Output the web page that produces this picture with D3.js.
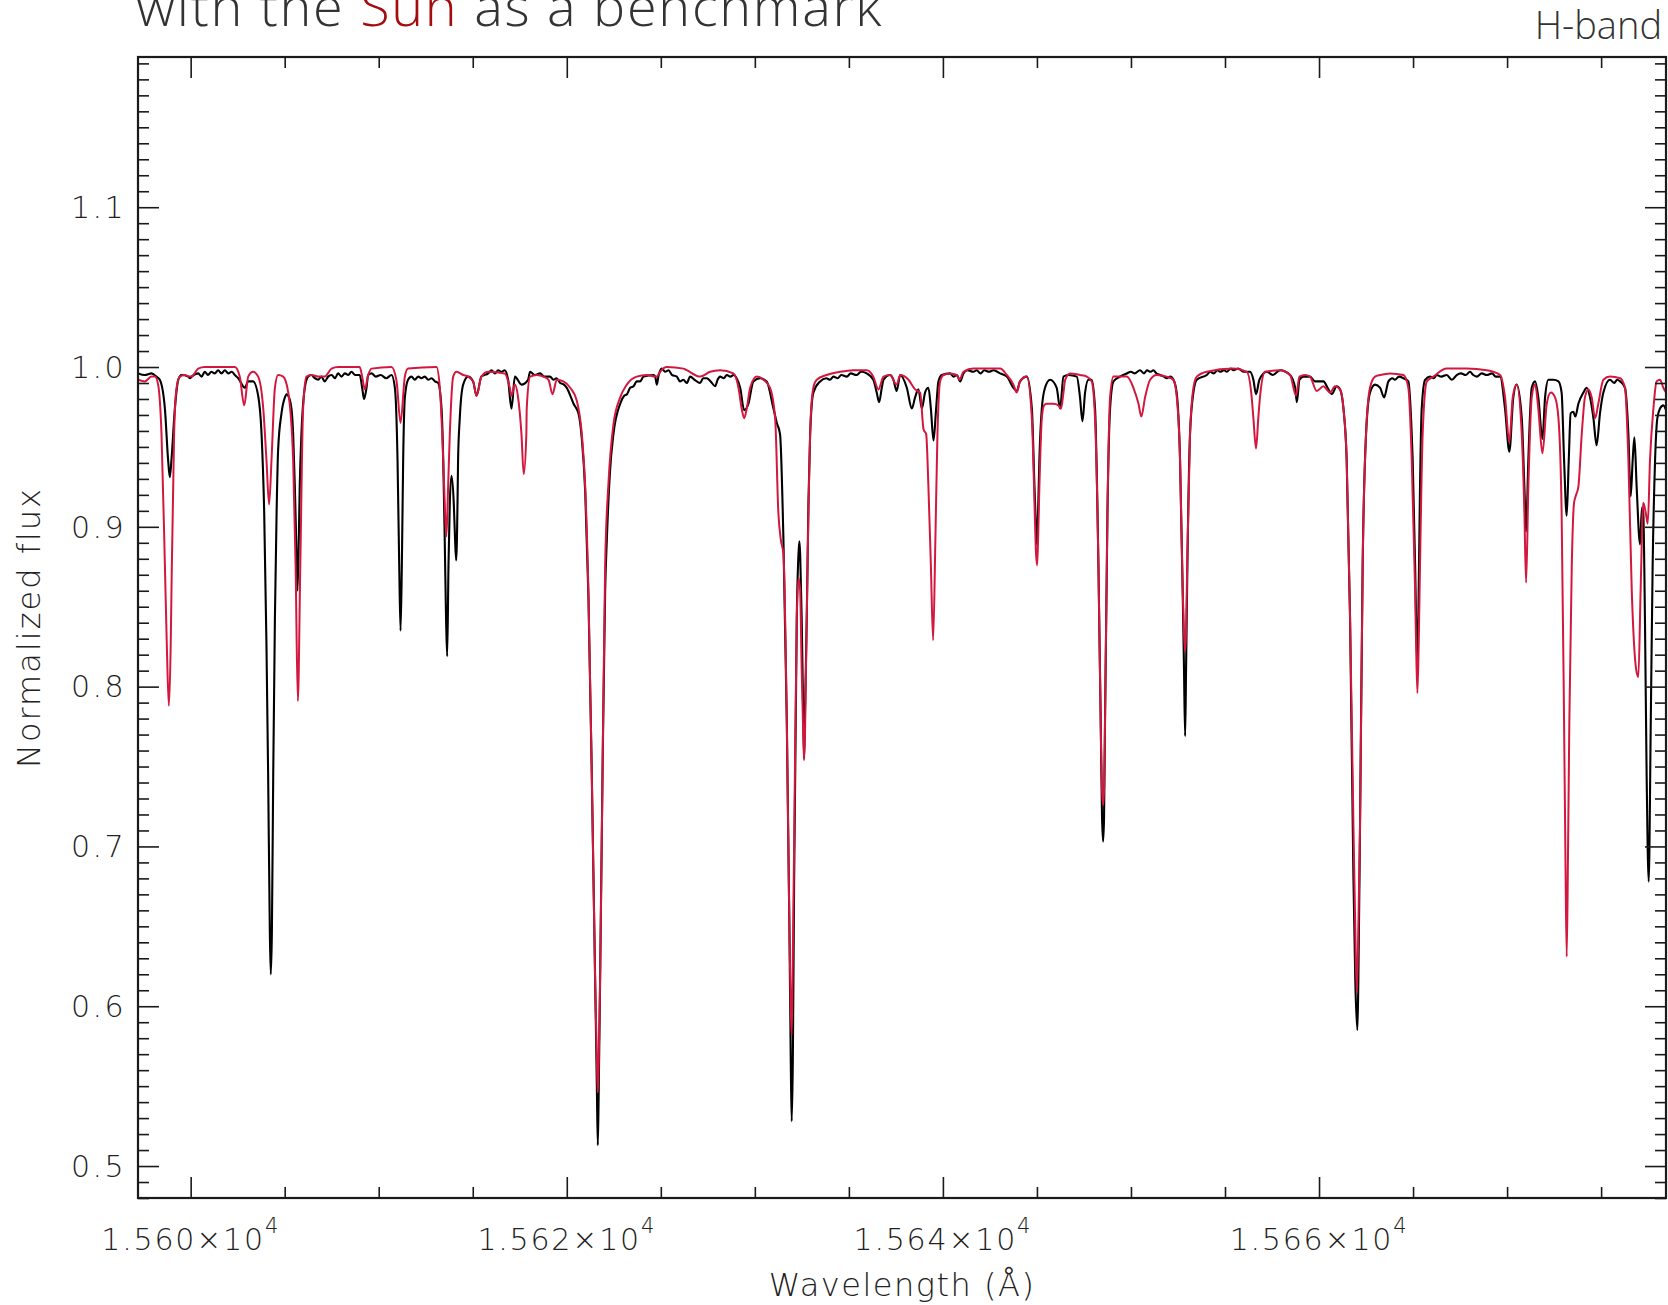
<!DOCTYPE html>
<html>
<head>
<meta charset="utf-8">
<script src="https://cdn.jsdelivr.net/npm/d3@7"></script>
<style>
  html, body { margin: 0; padding: 0; background: #fff; }
  svg { display: block; }
</style>
</head>
<body>
<svg id="chart" width="1668" height="1305"></svg>
<script>
// ---------------- DATA ----------------
const titleParts = ["with the ", "Sun", " as a benchmark"];
const bandLabel = "H-band";
const xAxisTitle = "Wavelength (Å)";
const yAxisTitle = "Normalized flux";

const xMajorTicks = [15600, 15620, 15640, 15660];
const xTickMantissa = ["1.560", "1.562", "1.564", "1.566"];
const xTickExponent = "4";
const yMajorTicks = [0.5, 0.6, 0.7, 0.8, 0.9, 1.0, 1.1];
const yTickLabels = ["0.5", "0.6", "0.7", "0.8", "0.9", "1.0", "1.1"];

// observed spectrum (black): [wavelength Å, normalized flux]
const observedSpectrum = [
[15597.21,0.996],[15597.56,0.995],[15597.92,0.996],[15598.18,0.994],[15598.36,0.992],[15598.63,0.974],[15598.80,0.942],[15598.89,0.931],[15598.98,0.942],[15599.16,0.974],[15599.34,0.992],[15599.51,0.995],[15599.87,0.994],[15599.96,0.993],[15600.05,0.994],
[15600.40,0.996],[15600.58,0.994],[15600.75,0.997],[15600.92,0.995],[15601.10,0.997],[15601.28,0.996],[15601.46,0.998],[15601.64,0.996],[15601.82,0.998],[15602.00,0.996],[15602.18,0.997],[15602.35,0.995],[15602.53,0.993],
[15602.88,0.987],[15603.06,0.991],[15603.32,0.991],[15603.59,0.982],[15603.77,0.958],[15603.91,0.909],[15604.03,0.827],[15604.12,0.745],[15604.21,0.647],[15604.26,0.620],[15604.32,0.647],[15604.39,0.745],[15604.48,0.843],[15604.57,0.909],[15604.65,0.948],[15604.83,0.971],[15605.01,0.981],[15605.10,0.983],[15605.19,0.982],[15605.36,0.974],[15605.45,0.958],[15605.54,0.925],[15605.61,0.892],[15605.68,0.860],[15605.75,0.892],[15605.80,0.925],[15605.89,0.958],[15606.07,0.987],[15606.25,0.994],
[15606.42,0.995],[15606.60,0.993],[15606.78,0.992],[15606.95,0.994],[15607.13,0.991],[15607.31,0.994],[15607.50,0.995],[15607.67,0.993],[15607.84,0.996],[15608.02,0.994],[15608.20,0.996],[15608.38,0.995],[15608.55,0.997],[15608.75,0.995],[15608.99,0.995],
[15609.12,0.987],[15609.22,0.980],[15609.35,0.987],[15609.44,0.995],[15609.62,0.996],[15609.85,0.994],[15610.10,0.995],[15610.40,0.993],[15610.68,0.995],[15610.86,0.987],[15611.00,0.942],[15611.09,0.876],[15611.16,0.835],[15611.23,0.876],[15611.30,0.942],[15611.39,0.981],[15611.56,0.992],
[15611.74,0.994],[15611.92,0.992],[15612.10,0.994],[15612.27,0.993],[15612.45,0.994],[15612.63,0.992],[15612.81,0.993],[15612.99,0.991],[15613.16,0.990],
[15613.34,0.974],[15613.43,0.942],[15613.51,0.892],[15613.58,0.843],[15613.64,0.819],[15613.71,0.876],[15613.78,0.915],[15613.87,0.932],[15613.99,0.915],[15614.06,0.892],[15614.12,0.879],[15614.19,0.915],[15614.22,0.942],[15614.31,0.968],[15614.49,0.989],[15614.75,0.994],[15615.02,0.991],[15615.20,0.982],[15615.46,0.994],
[15615.82,0.996],[15616.00,0.998],[15616.18,0.996],[15616.35,0.998],[15616.53,0.997],[15616.70,0.998],[15616.88,0.992],[15617.06,0.974],[15617.24,0.994],[15617.59,0.989],[15617.94,0.992],
[15618.05,0.997],[15618.30,0.995],[15618.58,0.996],[15618.80,0.994],[15619.11,0.994],[15619.29,0.992],[15619.45,0.993],[15619.65,0.990],[15619.85,0.989],[15620.00,0.987],
[15620.36,0.977],[15620.62,0.971],[15620.80,0.955],[15620.98,0.922],[15621.15,0.857],[15621.33,0.745],[15621.51,0.615],[15621.60,0.549],[15621.65,0.513],[15621.70,0.549],[15621.77,0.615],[15621.90,0.745],[15622.04,0.860],[15622.13,0.892],[15622.30,0.935],[15622.48,0.958],
[15622.84,0.977],[15623.05,0.982],[15623.20,0.983],[15623.37,0.987],[15623.55,0.988],[15623.72,0.991],[15623.90,0.991],[15624.08,0.994],[15624.61,0.995],[15624.70,0.994],[15624.79,0.989],[15624.87,0.994],
[15625.05,0.999],[15625.23,0.997],[15625.41,0.998],[15625.60,0.995],[15625.85,0.994],[15626.02,0.991],[15626.20,0.992],[15626.38,0.990],[15626.56,0.994],[15626.80,0.992],[15627.09,0.990],[15627.25,0.993],[15627.44,0.993],[15627.65,0.991],[15627.89,0.988],[15628.02,0.992],[15628.15,0.994],[15628.35,0.993],[15628.51,0.995],[15628.70,0.994],[15628.86,0.995],
[15629.22,0.987],[15629.43,0.973],[15629.66,0.977],[15629.92,0.991],[15630.28,0.993],[15630.63,0.991],[15630.99,0.974],[15631.17,0.965],[15631.34,0.958],[15631.52,0.892],[15631.70,0.778],[15631.84,0.647],[15631.91,0.566],[15631.96,0.528],[15632.02,0.566],[15632.09,0.680],[15632.23,0.843],[15632.32,0.883],[15632.37,0.891],[15632.41,0.883],[15632.49,0.843],[15632.57,0.785],[15632.62,0.755],[15632.67,0.785],[15632.76,0.843],[15632.85,0.915],[15632.94,0.958],[15633.11,0.984],
[15633.47,0.991],[15633.80,0.993],[15634.00,0.992],[15634.18,0.994],[15634.40,0.993],[15634.60,0.995],[15634.89,0.994],[15635.10,0.996],[15635.40,0.995],[15635.65,0.997],[15635.95,0.996],
[15636.30,0.992],[15636.48,0.984],[15636.61,0.978],[15636.75,0.987],[15636.84,0.992],[15637.19,0.995],[15637.37,0.992],[15637.54,0.985],
[15637.73,0.995],[15638.08,0.987],[15638.35,0.974],[15638.52,0.981],[15638.70,0.986],[15638.88,0.974],[15639.05,0.984],[15639.23,0.987],[15639.36,0.974],[15639.50,0.954],[15639.64,0.974],[15639.76,0.991],[15639.94,0.995],
[15640.38,0.996],[15640.56,0.994],[15640.74,0.995],[15640.92,0.991],[15641.09,0.996],[15641.30,0.998],[15641.62,0.997],[15641.80,0.998],[15642.00,0.996],[15642.20,0.998],[15642.45,0.997],[15642.70,0.998],[15643.04,0.996],
[15643.40,0.994],[15643.75,0.987],[15643.93,0.985],[15644.10,0.991],[15644.46,0.994],[15644.73,0.974],[15644.87,0.925],[15644.94,0.902],[15644.99,0.889],[15645.06,0.909],[15645.13,0.942],[15645.26,0.974],[15645.43,0.987],[15645.70,0.992],[15646.05,0.987],[15646.23,0.974],[15646.41,0.994],[15646.67,0.995],[15647.12,0.994],[15647.29,0.981],[15647.42,0.966],[15647.56,0.984],[15647.74,0.992],[15647.91,0.992],[15648.09,0.974],[15648.27,0.876],[15648.41,0.762],[15648.46,0.719],[15648.52,0.703],[15648.57,0.719],[15648.62,0.778],[15648.75,0.909],[15648.89,0.974],[15649.07,0.991],[15649.42,0.994],
[15649.78,0.996],[15650.00,0.997],[15650.20,0.996],[15650.48,0.998],[15650.70,0.996],[15650.85,0.998],[15651.05,0.997],[15651.19,0.998],[15651.35,0.996],[15651.55,0.995],[15651.75,0.994],[15651.90,0.993],[15652.10,0.994],[15652.26,0.992],
[15652.43,0.984],[15652.61,0.942],[15652.75,0.860],[15652.82,0.811],[15652.88,0.769],[15652.93,0.811],[15653.00,0.876],[15653.14,0.958],[15653.32,0.984],[15653.50,0.992],
[15654.03,0.995],[15654.22,0.997],[15654.40,0.996],[15654.60,0.998],[15654.74,0.997],[15654.95,0.998],[15655.10,0.997],[15655.30,0.999],[15655.45,0.998],[15655.70,0.999],[15656.00,0.997],
[15656.33,0.997],[15656.51,0.992],[15656.65,0.983],[15656.83,0.992],[15657.22,0.997],[15657.55,0.995],[15657.93,0.998],
[15658.46,0.995],[15658.73,0.987],[15658.82,0.978],[15658.96,0.992],[15659.17,0.994],[15659.52,0.994],[15659.79,0.991],[15660.06,0.991],[15660.23,0.991],[15660.50,0.986],[15660.68,0.983],[15660.94,0.988],[15661.12,0.986],[15661.30,0.974],[15661.47,0.942],[15661.65,0.843],[15661.83,0.680],[15661.93,0.615],[15662.04,0.585],[15662.09,0.615],[15662.18,0.713],[15662.32,0.876],[15662.50,0.958],[15662.71,0.984],[15662.98,0.989],[15663.25,0.987],[15663.46,0.981],
[15663.69,0.991],[15663.90,0.993],[15664.04,0.992],[15664.25,0.994],[15664.49,0.993],
[15664.75,0.991],[15664.93,0.958],[15664.98,0.942],[15665.11,0.876],[15665.16,0.843],[15665.23,0.814],[15665.30,0.860],[15665.37,0.925],[15665.46,0.974],[15665.64,0.992],
[15665.90,0.994],[15666.10,0.993],[15666.26,0.995],[15666.50,0.994],[15666.79,0.995],[15667.06,0.992],[15667.32,0.995],[15667.55,0.996],[15667.80,0.995],[15668.03,0.997],[15668.20,0.995],[15668.39,0.994],[15668.65,0.996],[15668.92,0.995],[15669.20,0.996],[15669.40,0.994],[15669.63,0.994],
[15669.89,0.974],[15670.12,0.947],[15670.33,0.981],[15670.51,0.989],[15670.78,0.968],[15670.92,0.925],[15671.01,0.897],[15671.13,0.942],[15671.31,0.987],[15671.49,0.991],[15671.66,0.981],[15671.88,0.955],[15672.02,0.981],[15672.20,0.992],[15672.46,0.992],[15672.73,0.991],[15672.90,0.984],[15673.03,0.942],[15673.17,0.907],[15673.28,0.942],[15673.38,0.971],[15673.52,0.972],[15673.63,0.969],[15673.79,0.977],[15674.06,0.984],[15674.23,0.987],[15674.41,0.981],[15674.59,0.968],[15674.76,0.951],[15674.94,0.971],[15675.12,0.984],
[15675.47,0.992],[15675.70,0.990],[15675.85,0.992],[15676.01,0.991],
[15676.27,0.987],[15676.45,0.958],[15676.57,0.919],[15676.68,0.942],[15676.77,0.956],[15676.89,0.925],[15677.07,0.889],[15677.17,0.912],[15677.24,0.909],[15677.33,0.843],[15677.42,0.745],[15677.53,0.678],[15677.64,0.778],[15677.74,0.876],[15677.87,0.942],[15677.99,0.968],[15678.13,0.974],[15678.31,0.976],[15678.45,0.973]
];

// synthetic solar model (red): [wavelength Å, normalized flux]
const modelSpectrum = [
[15597.21,0.992],[15597.56,0.991],[15597.92,0.994],[15598.10,0.994],[15598.27,0.989],[15598.45,0.958],[15598.63,0.876],[15598.73,0.827],[15598.84,0.788],[15598.94,0.827],[15598.98,0.860],[15599.12,0.958],[15599.25,0.987],[15599.43,0.994],[15599.69,0.995],[15599.96,0.994],[15600.05,0.994],[15600.40,0.999],[15600.75,1.000],[15602.35,1.000],[15602.61,0.994],[15602.85,0.976],[15603.06,0.994],[15603.32,0.997],[15603.59,0.994],[15603.86,0.974],[15604.03,0.942],[15604.17,0.914],[15604.30,0.942],[15604.48,0.987],[15604.65,0.995],[15604.92,0.994],[15605.19,0.984],[15605.45,0.942],[15605.58,0.876],[15605.70,0.791],[15605.83,0.876],[15605.98,0.974],[15606.16,0.994],[15606.42,0.995],[15606.78,0.994],[15607.13,0.994],[15607.49,0.999],[15607.84,1.000],[15608.99,1.000],[15609.12,0.994],[15609.26,0.986],[15609.44,0.995],[15609.62,0.999],[15610.68,1.000],[15610.95,0.991],[15611.16,0.965],[15611.39,0.994],[15611.56,0.999],[15613.07,1.000],[15613.25,0.987],[15613.43,0.942],[15613.51,0.915],[15613.60,0.894],[15613.69,0.925],[15613.78,0.958],[15613.96,0.994],[15614.14,0.997],[15614.49,0.995],[15614.75,0.994],[15615.02,0.991],[15615.20,0.982],[15615.46,0.994],[15615.82,0.997],[15616.70,0.996],[15616.97,0.987],[15617.06,0.982],[15617.24,0.989],[15617.41,0.981],[15617.59,0.958],[15617.71,0.933],[15617.85,0.958],
[15617.87,0.974],[15618.05,0.994],[15618.41,0.995],[15618.76,0.994],[15619.03,0.992],[15619.24,0.983],[15619.47,0.992],[15619.82,0.991],[15620.18,0.987],[15620.53,0.979],[15620.80,0.958],[15620.98,0.925],[15621.15,0.860],[15621.33,0.745],[15621.51,0.615],[15621.60,0.566],[15621.65,0.546],[15621.70,0.566],[15621.77,0.615],[15621.90,0.745],[15622.04,0.876],[15622.22,0.928],[15622.48,0.964],[15622.84,0.981],[15623.19,0.989],[15623.72,0.994],[15624.25,0.995],[15624.70,0.994],[15624.79,0.994],[15624.96,0.997],[15625.32,1.000],[15626.20,0.999],[15626.38,0.998],[15627.09,0.994],[15627.62,0.997],[15628.15,0.998],[15628.86,0.996],[15629.13,0.987],[15629.30,0.974],[15629.43,0.968],[15629.57,0.974],[15629.75,0.987],[15630.10,0.994],[15630.46,0.992],[15630.81,0.987],[15631.08,0.968],[15631.25,0.909],[15631.38,0.892],[15631.52,0.883],[15631.70,0.778],[15631.84,0.647],[15631.91,0.598],[15631.96,0.582],[15632.02,0.631],[15632.10,0.713],[15632.23,0.843],[15632.32,0.868],[15632.41,0.860],[15632.49,0.811],[15632.57,0.772],[15632.62,0.754],[15632.67,0.772],[15632.72,0.811],[15632.85,0.909],[15632.97,0.968],[15633.11,0.987],[15633.29,0.992],[15633.82,0.995],[15634.53,0.997],[15635.24,0.998],[15635.95,0.998],[15636.30,0.994],[15636.57,0.986],[15636.84,0.994],[15637.19,0.995],[15637.54,0.989],
[15637.73,0.995],[15638.17,0.992],[15638.52,0.986],[15638.79,0.984],[15638.97,0.961],[15639.11,0.958],[15639.23,0.925],[15639.36,0.876],[15639.48,0.829],[15639.60,0.892],[15639.71,0.958],[15639.85,0.991],[15640.03,0.995],[15640.38,0.996],[15640.74,0.995],[15640.88,0.992],[15641.09,0.997],[15641.62,0.999],[15643.04,0.999],[15643.40,0.995],[15643.75,0.989],[15643.93,0.984],[15644.10,0.991],[15644.46,0.994],[15644.73,0.968],[15644.87,0.915],[15644.94,0.886],[15645.01,0.876],[15645.06,0.892],[15645.13,0.925],[15645.26,0.968],[15645.38,0.976],[15645.52,0.977],[15645.88,0.977],[15646.14,0.976],[15646.28,0.974],[15646.41,0.984],[15646.50,0.992],[15646.76,0.996],[15647.29,0.995],[15647.65,0.994],[15647.91,0.991],[15648.09,0.968],[15648.27,0.876],[15648.41,0.762],[15648.46,0.736],[15648.52,0.726],[15648.57,0.736],[15648.62,0.778],[15648.75,0.909],[15648.89,0.981],[15649.07,0.994],[15649.42,0.994],[15649.78,0.994],[15650.13,0.987],[15650.40,0.977],[15650.55,0.969],[15650.75,0.981],[15651.02,0.992],[15651.37,0.995],[15651.90,0.994],[15652.26,0.992],[15652.43,0.982],[15652.61,0.942],[15652.75,0.860],[15652.82,0.834],[15652.88,0.822],[15652.93,0.834],[15653.00,0.883],[15653.14,0.958],[15653.32,0.987],[15653.50,0.994],[15654.03,0.997],[15655.45,0.999],[15656.16,0.997],[15656.42,0.981],[15656.51,0.968],[15656.65,0.949],[15656.77,0.968],[15656.86,0.981],[15657.13,0.997],[15657.93,0.998],
[15658.46,0.995],[15658.78,0.982],[15658.96,0.994],[15659.26,0.995],[15659.52,0.994],[15659.88,0.985],[15660.23,0.988],[15660.59,0.984],[15660.85,0.988],[15661.12,0.986],[15661.30,0.974],[15661.47,0.942],[15661.65,0.843],[15661.83,0.713],[15661.93,0.647],[15662.01,0.608],[15662.09,0.647],[15662.18,0.713],[15662.32,0.876],[15662.50,0.958],[15662.71,0.987],[15662.98,0.994],[15663.25,0.995],[15663.78,0.996],[15664.49,0.995],[15664.75,0.987],[15664.93,0.942],[15665.11,0.860],[15665.16,0.827],[15665.23,0.796],[15665.30,0.827],[15665.37,0.876],[15665.51,0.958],[15665.73,0.991],[15666.08,0.994],[15666.79,0.999],[15667.85,0.999],[15668.92,0.998],[15669.63,0.995],[15669.89,0.981],[15670.12,0.953],[15670.30,0.981],[15670.51,0.989],[15670.78,0.958],[15670.92,0.909],[15671.01,0.865],[15671.13,0.925],[15671.31,0.981],[15671.49,0.989],[15671.66,0.974],[15671.88,0.946],[15672.11,0.977],[15672.32,0.984],[15672.55,0.981],[15672.73,0.968],[15672.90,0.909],[15673.03,0.778],[15673.10,0.696],[15673.17,0.631],[15673.24,0.696],[15673.31,0.778],[15673.44,0.876],[15673.56,0.915],[15673.67,0.920],[15673.79,0.925],[15673.97,0.958],[15674.14,0.981],[15674.32,0.986],[15674.50,0.981],[15674.68,0.968],[15674.85,0.977],[15675.12,0.992],[15675.47,0.994],[15676.01,0.993],[15676.27,0.987],[15676.45,0.942],[15676.63,0.860],[15676.86,0.811],[15676.98,0.806],[15677.10,0.860],[15677.24,0.915],[15677.37,0.909],[15677.48,0.902],[15677.60,0.942],[15677.78,0.974],[15677.95,0.991],[15678.13,0.992],[15678.31,0.987],[15678.45,0.984]
];

// ---------------- CHART ----------------
const svg = d3.select("#chart");
const plot = { left: 138, right: 1666, top: 57, bottom: 1198 };

const x = d3.scaleLinear().domain([15597.2, 15678.45]).range([plot.left, plot.right]);
const y = d3.scaleLinear().domain([0.48, 1.194]).range([plot.bottom, plot.top]);

const axisColor = "#1a1a1a";
const labelFont = "'DejaVu Sans', sans-serif";

svg.append("clipPath").attr("id", "clip")
  .append("rect")
  .attr("x", plot.left).attr("y", plot.top)
  .attr("width", plot.right - plot.left).attr("height", plot.bottom - plot.top);

const line = d3.line().x(d => x(d[0])).y(d => y(d[1])).curve(d3.curveMonotoneX);

const g = svg.append("g").attr("clip-path", "url(#clip)");
g.append("path").datum(observedSpectrum)
  .attr("d", line).attr("fill", "none")
  .attr("stroke", "#000").attr("stroke-width", 2.1).attr("stroke-linejoin", "round");
g.append("path").datum(modelSpectrum)
  .attr("d", line).attr("fill", "none")
  .attr("stroke", "#d3173e").attr("stroke-width", 2).attr("stroke-linejoin", "round");

// minor tick positions
const xMinor = d3.range(15600, 15680, 5).filter(v => !xMajorTicks.includes(v));
const yMinor = d3.range(48, 120).map(v => v / 100).filter(v => Math.abs(v * 10 - Math.round(v * 10)) > 1e-6);

function styleAxis(sel) {
  sel.select(".domain").remove();
  sel.selectAll("line").attr("stroke", axisColor).attr("stroke-width", 1.6);
  sel.selectAll("text").remove();
}

// bottom
svg.append("g").attr("transform", `translate(0,${plot.bottom})`)
  .call(d3.axisBottom(x).tickValues(xMajorTicks).tickSize(-21)).call(styleAxis);
svg.append("g").attr("transform", `translate(0,${plot.bottom})`)
  .call(d3.axisBottom(x).tickValues(xMinor).tickSize(-11)).call(styleAxis);
// top
svg.append("g").attr("transform", `translate(0,${plot.top})`)
  .call(d3.axisTop(x).tickValues(xMajorTicks).tickSize(-21)).call(styleAxis);
svg.append("g").attr("transform", `translate(0,${plot.top})`)
  .call(d3.axisTop(x).tickValues(xMinor).tickSize(-11)).call(styleAxis);
// left
svg.append("g").attr("transform", `translate(${plot.left},0)`)
  .call(d3.axisLeft(y).tickValues(yMajorTicks).tickSize(-21)).call(styleAxis);
svg.append("g").attr("transform", `translate(${plot.left},0)`)
  .call(d3.axisLeft(y).tickValues(yMinor).tickSize(-11)).call(styleAxis);
// right
svg.append("g").attr("transform", `translate(${plot.right},0)`)
  .call(d3.axisRight(y).tickValues(yMajorTicks).tickSize(-21)).call(styleAxis);
svg.append("g").attr("transform", `translate(${plot.right},0)`)
  .call(d3.axisRight(y).tickValues(yMinor).tickSize(-11)).call(styleAxis);

// frame
svg.append("rect")
  .attr("x", plot.left).attr("y", plot.top)
  .attr("width", plot.right - plot.left).attr("height", plot.bottom - plot.top)
  .attr("fill", "none").attr("stroke", axisColor).attr("stroke-width", 2.2);

// y tick labels
svg.append("g").selectAll("text").data(yMajorTicks).join("text")
  .attr("x", plot.left - 12).attr("y", d => y(d))
  .attr("dy", "0.36em").attr("text-anchor", "end")
  .attr("font-family", labelFont).attr("font-weight", 200)
  .attr("font-size", 30).attr("letter-spacing", 2.4).attr("fill", "#222")
  .text((d, i) => yTickLabels[i]);

// x tick labels
const xl = svg.append("g").selectAll("text").data(xMajorTicks).join("text")
  .attr("x", d => x(d)).attr("y", plot.bottom + 52)
  .attr("text-anchor", "middle")
  .attr("font-family", labelFont).attr("font-weight", 200)
  .attr("font-size", 30).attr("letter-spacing", 1.8).attr("fill", "#222");
xl.append("tspan").text((d, i) => xTickMantissa[i] + "×10");
xl.append("tspan").attr("dy", -17).attr("font-size", 21).text(xTickExponent);

// axis titles
svg.append("text")
  .attr("x", (plot.left + plot.right) / 2).attr("y", 1296)
  .attr("text-anchor", "middle")
  .attr("font-family", labelFont).attr("font-weight", 200)
  .attr("font-size", 32).attr("letter-spacing", 1.5).attr("fill", "#222")
  .text(xAxisTitle);

svg.append("text")
  .attr("transform", `translate(40,${(plot.top + plot.bottom) / 2}) rotate(-90)`)
  .attr("text-anchor", "middle")
  .attr("font-family", labelFont).attr("font-weight", 200)
  .attr("font-size", 32).attr("letter-spacing", 2).attr("fill", "#222")
  .text(yAxisTitle);

// title (clipped at the top of the page, as in the source figure)
const t = svg.append("text")
  .attr("x", 136).attr("y", 26)
  .attr("font-family", "'Open Sans', sans-serif").attr("font-weight", 300)
  .attr("font-size", 54).attr("letter-spacing", 1.7).attr("fill", "#333");
t.append("tspan").text(titleParts[0]);
t.append("tspan").attr("fill", "#a30d0d").text(titleParts[1]);
t.append("tspan").text(titleParts[2]);

svg.append("text")
  .attr("x", 1662).attr("y", 39)
  .attr("text-anchor", "end")
  .attr("font-family", "'Open Sans', sans-serif").attr("font-weight", 300)
  .attr("font-size", 38).attr("fill", "#333")
  .text(bandLabel);
</script>
</body>
</html>
